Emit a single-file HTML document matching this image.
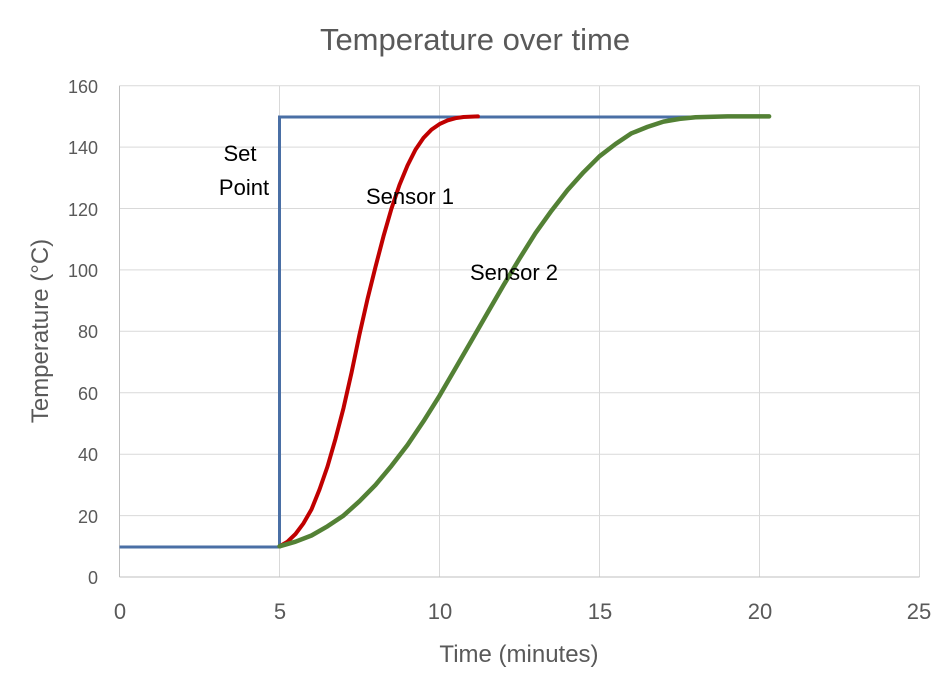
<!DOCTYPE html><html><head><style>body{margin:0;background:#fff}</style></head><body>
<svg width="950" height="690" xmlns="http://www.w3.org/2000/svg" font-family="Liberation Sans, sans-serif">
<rect width="950" height="690" fill="#fff"/>
<text x="475" y="50" font-size="31" fill="#595959" text-anchor="middle">Temperature over time</text>
<g stroke="#d9d9d9" stroke-width="1">
<line x1="119.5" y1="85.7" x2="919.5" y2="85.7"/><line x1="119.5" y1="147.1" x2="919.5" y2="147.1"/>
<line x1="119.5" y1="208.5" x2="919.5" y2="208.5"/><line x1="119.5" y1="269.9" x2="919.5" y2="269.9"/>
<line x1="119.5" y1="331.3" x2="919.5" y2="331.3"/><line x1="119.5" y1="392.8" x2="919.5" y2="392.8"/>
<line x1="119.5" y1="454.2" x2="919.5" y2="454.2"/><line x1="119.5" y1="515.6" x2="919.5" y2="515.6"/>
<line x1="279.5" y1="85.7" x2="279.5" y2="577"/><line x1="439.5" y1="85.7" x2="439.5" y2="577"/>
<line x1="599.5" y1="85.7" x2="599.5" y2="577"/><line x1="759.5" y1="85.7" x2="759.5" y2="577"/>
<line x1="919.5" y1="85.7" x2="919.5" y2="577"/>
</g>
<line x1="119.5" y1="85.7" x2="119.5" y2="577" stroke="#bfbfbf"/>
<line x1="119.5" y1="577" x2="919.5" y2="577" stroke="#bfbfbf"/>
<g font-size="18" fill="#595959" text-anchor="end">
<text x="98" y="93">160</text><text x="98" y="154">140</text><text x="98" y="216">120</text>
<text x="98" y="277">100</text><text x="98" y="338">80</text><text x="98" y="400">60</text>
<text x="98" y="461">40</text><text x="98" y="523">20</text><text x="98" y="584">0</text>
</g>
<g font-size="22" fill="#595959" text-anchor="middle">
<text x="120" y="619">0</text><text x="280" y="619">5</text><text x="440" y="619">10</text>
<text x="600" y="619">15</text><text x="760" y="619">20</text><text x="919" y="619">25</text>
</g>
<text x="519" y="662" font-size="24" fill="#595959" text-anchor="middle">Time (minutes)</text>
<text transform="translate(48,331) rotate(-90)" font-size="24" fill="#595959" text-anchor="middle">Temperature (°C)</text>
<polyline fill="none" stroke="#4a6fa5" stroke-width="3" points="119.5,547 279.5,547 279.5,117 759.5,117"/>
<polyline fill="none" stroke="#c00000" stroke-width="4" stroke-linejoin="round" stroke-linecap="round" points="279.5,546.3 287.5,541.7 295.5,534.0 303.5,523.3 311.5,509.4 319.5,489.5 327.5,466.5 335.5,438.8 343.5,408.1 351.5,372.8 359.5,334.4 367.5,299.1 375.5,266.9 383.5,236.2 391.5,208.5 399.5,184.9 407.5,165.5 415.5,149.6 423.5,137.9 431.5,129.6 439.5,124.1 447.5,120.4 455.5,118.2 463.5,117.0 477.9,116.4"/>
<polyline fill="none" stroke="#538135" stroke-width="4.5" stroke-linejoin="round" stroke-linecap="round" points="279.5,546.3 295.5,541.7 311.5,535.5 327.5,526.3 343.5,515.6 359.5,501.2 375.5,484.9 391.5,465.8 407.5,445.0 423.5,421.3 439.5,395.8 455.5,368.2 471.5,340.6 487.5,312.9 503.5,285.3 519.5,258.6 535.5,233.1 551.5,210.7 567.5,190.1 583.5,172.3 599.5,156.3 615.5,144.0 631.5,133.3 647.5,126.9 663.5,121.6 679.5,118.9 695.5,117.3 727.5,116.4 769.1,116.4"/>
<g font-size="22" fill="#000">
<text x="240" y="161" text-anchor="middle">Set</text>
<text x="244" y="195" text-anchor="middle">Point</text>
<text x="410" y="204" text-anchor="middle">Sensor 1</text>
<text x="514" y="280" text-anchor="middle">Sensor 2</text>
</g>
</svg></body></html>
